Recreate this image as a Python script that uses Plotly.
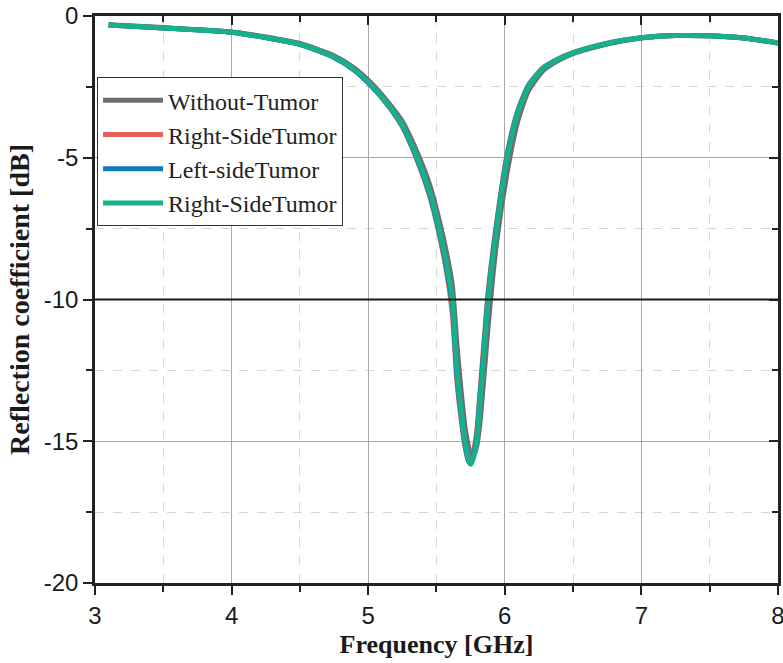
import plotly.graph_objects as go

freq = [3.1, 3.5, 4.0, 4.25, 4.5, 4.75, 4.9, 5.025, 5.15, 5.25, 5.347, 5.45, 5.52, 5.58,
        5.616, 5.65, 5.68, 5.709, 5.735, 5.752, 5.77, 5.794, 5.815, 5.838, 5.879, 5.94,
        6.018, 6.09, 6.172, 6.28, 6.38, 6.5, 6.75, 7.0, 7.25, 7.5, 7.75, 8.0]

without_tumor = [-0.31, -0.41, -0.56, -0.74, -0.97, -1.4, -1.84, -2.38, -3.07, -3.72, -4.68,
                 -5.95, -7.2, -8.5, -9.5, -11.6, -13.2, -14.5, -15.2, -15.45, -15.5, -15.2,
                 -14.5, -13.3, -10.9, -8.0, -5.5, -3.8, -2.65, -1.93, -1.6, -1.33, -0.99,
                 -0.78, -0.69, -0.70, -0.78, -0.95]
right_side_1 = [-0.32, -0.42, -0.57, -0.76, -1.0, -1.46, -1.92, -2.48, -3.18, -3.9, -4.95,
                -6.35, -7.7, -9.2, -10.5, -12.9, -14.2, -15.2, -15.7, -15.7, -15.4, -14.7,
                -13.5, -12.1, -9.7, -7.3, -4.85, -3.42, -2.45, -1.83, -1.54, -1.29, -0.96,
                -0.77, -0.69, -0.70, -0.78, -0.95]
left_side = [-0.32, -0.42, -0.57, -0.76, -1.0, -1.46, -1.91, -2.47, -3.17, -3.88, -4.9,
             -6.28, -7.6, -9.05, -10.2, -12.7, -14.05, -15.1, -15.7, -15.8, -15.5, -14.85,
             -13.65, -12.3, -9.85, -7.4, -4.92, -3.46, -2.47, -1.84, -1.55, -1.3, -0.97,
             -0.77, -0.69, -0.70, -0.78, -0.95]
right_side_2 = [-0.32, -0.42, -0.57, -0.76, -1.0, -1.45, -1.9, -2.45, -3.15, -3.85, -4.85,
                -6.2, -7.5, -8.9, -10.0, -12.5, -13.9, -15.0, -15.65, -15.8, -15.6, -15.0,
                -13.8, -12.5, -10.0, -7.5, -5.0, -3.5, -2.5, -1.85, -1.55, -1.3, -0.97,
                -0.77, -0.69, -0.70, -0.78, -0.95]

series_names = ["Without-Tumor", "Right-SideTumor", "Left-sideTumor", "Right-SideTumor"]
series_colors = ["#6d6e71", "#e8605b", "#0f7ac0", "#17b08a"]
series_values = [without_tumor, right_side_1, left_side, right_side_2]

x_ticks = [3, 4, 5, 6, 7, 8]
x_tick_labels = ["3", "4", "5", "6", "7", "8"]
y_ticks = [0, -5, -10, -15, -20]
y_tick_labels = ["0", "-5", "-10", "-15", "-20"]
threshold = -10

fig = go.Figure()
for name, color, vals in zip(series_names, series_colors, series_values):
    fig.add_trace(go.Scatter(x=freq, y=vals, name=name, mode="lines",
                             line=dict(color=color, width=5, shape="spline", smoothing=0.6)))

# helper invisible trace for mirrored inside ticks
fig.add_trace(go.Scatter(x=[None], y=[None], xaxis="x2", yaxis="y2", showlegend=False,
                         hoverinfo="skip"))

fig.add_hline(y=threshold, line=dict(color="#1a1a1a", width=2.2), layer="above")

tickfont = dict(family="Liberation Sans Narrow, Liberation Sans, Arial", size=24, color="#1a1a1a")
xtitlefont = dict(family="Liberation Serif, Times New Roman", size=26, color="#1a1a1a")
ytitlefont = dict(family="Liberation Serif, Times New Roman", size=28, color="#1a1a1a")

XR = [3, 8.0005]
fig.update_layout(
    width=783, height=663,
    margin=dict(l=95, r=5, t=16, b=80),
    plot_bgcolor="white", paper_bgcolor="white",
    showlegend=True,
    legend=dict(x=0.003, y=0.892, xanchor="left", yanchor="top",
                bgcolor="white", bordercolor="#333", borderwidth=1,
                font=dict(family="Liberation Serif, Times New Roman", size=24, color="#222"),
                itemwidth=60, tracegroupgap=0),
    xaxis=dict(range=XR, tickvals=x_ticks, ticktext=x_tick_labels, ticks="outside", ticklen=9,
               tickwidth=2, ticklabeloverflow="allow",
               tickcolor="#222", showline=True, linewidth=2.5, linecolor="#222", mirror=True,
               showgrid=True, gridcolor="#aaaaaa", gridwidth=1, zeroline=False,
               tickfont=tickfont, automargin=False,
               title=dict(text="<b>Frequency [GHz]</b>", font=xtitlefont, standoff=8),
               minor=dict(dtick=0.5, ticks="outside", ticklen=6, tickwidth=2, tickcolor="#222",
                          showgrid=True, gridcolor="#d6d6d6", griddash="dash", gridwidth=1)),
    yaxis=dict(range=[-20, 0], tickvals=y_ticks, ticktext=y_tick_labels, ticks="outside",
               ticklen=9, tickwidth=2, tickcolor="#222", showline=True, linewidth=2.5,
               linecolor="#222", mirror=True, showgrid=True, gridcolor="#aaaaaa", gridwidth=1,
               zeroline=False, tickfont=tickfont, automargin=False,
               title=dict(text="<b>Reflection coefficient [dB]</b>", font=ytitlefont, standoff=6),
               minor=dict(dtick=2.5, ticks="outside", ticklen=6, tickwidth=2, tickcolor="#222",
                          showgrid=True, gridcolor="#d6d6d6", griddash="dash", gridwidth=1)),
    xaxis2=dict(overlaying="x", side="top", matches="x", range=XR, tickvals=x_ticks,
                ticks="inside", ticklen=9, tickwidth=2, tickcolor="#222", showticklabels=False,
                showgrid=False, zeroline=False, showline=False,
                minor=dict(dtick=0.5, ticks="inside", ticklen=6, tickwidth=2, tickcolor="#222",
                           showgrid=False)),
    yaxis2=dict(overlaying="y", side="right", matches="y", range=[-20, 0], tickvals=y_ticks,
                ticks="inside", ticklen=9, tickwidth=2, tickcolor="#222", showticklabels=False,
                showgrid=False, zeroline=False, showline=False,
                minor=dict(dtick=2.5, ticks="inside", ticklen=6, tickwidth=2, tickcolor="#222",
                           showgrid=False)),
)

fig.write_html("out.html")
